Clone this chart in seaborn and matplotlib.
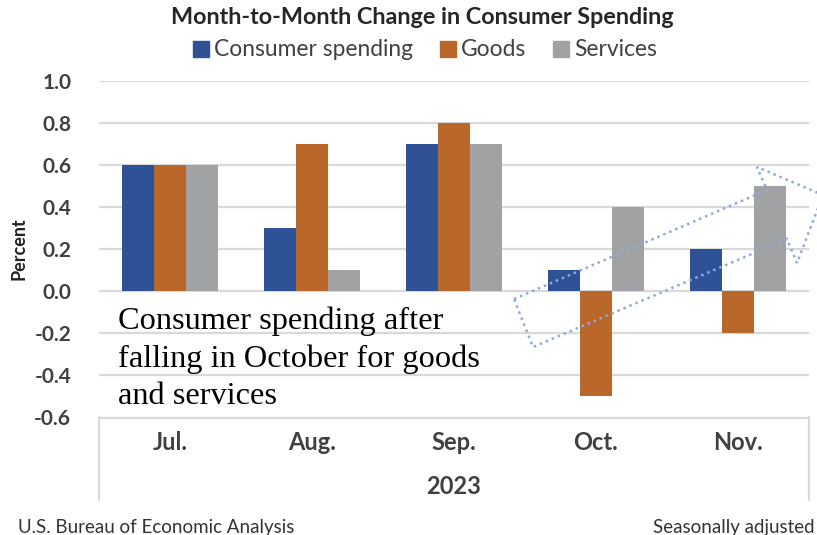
import matplotlib
matplotlib.use("Agg")
import matplotlib.pyplot as plt
from matplotlib.patches import Polygon
from matplotlib.transforms import Affine2D
import seaborn as sns
import pandas as pd

# Monthly percent changes, 2023
months = ["Jul.", "Aug.", "Sep.", "Oct.", "Nov."]
series = ["Consumer spending", "Goods", "Services"]
consumer_spending = [0.6, 0.3, 0.7, 0.1, 0.2]
goods = [0.6, 0.7, 0.8, -0.5, -0.2]
services = [0.6, 0.1, 0.7, 0.4, 0.5]
y_ticks = [1.0, 0.8, 0.6, 0.4, 0.2, 0.0, -0.2, -0.4, -0.6]

palette = {"Consumer spending": "#2F5196", "Goods": "#B9672A", "Services": "#A0A2A3"}

rows = []
for name, vals in zip(series, [consumer_spending, goods, services]):
    for m, v in zip(months, vals):
        rows.append({"Month": m, "Series": name, "Value": v})
df = pd.DataFrame(rows)

sns.set_theme(style="white")
plt.rcParams["font.family"] = ["Lato", "DejaVu Sans"]

W, H = 817, 535
fig = plt.figure(figsize=(W / 100, H / 100), dpi=100)
ax = fig.add_axes([99 / W, 1 - 417 / H, (809 - 99) / W, (417 - 81) / H])

sns.barplot(data=df, x="Month", y="Value", hue="Series", order=months,
            hue_order=series, palette=palette, width=0.67, saturation=1,
            edgecolor="none", ax=ax, legend=False, zorder=3)

ax.set_ylim(-0.6, 1.0)
ax.set_xlim(-0.5, len(months) - 0.5)
ax.set_yticks(y_ticks)
ax.set_yticklabels([f"{t:.1f}" for t in y_ticks], fontsize=15,
                   fontweight="bold", color="#404040")
ax.tick_params(axis="y", length=0, pad=20)
ax.set_xticks([])
ax.set_xlabel("")
ax.set_ylabel("Percent", fontsize=13, fontweight="bold", color="#222222", labelpad=5)
for s in ax.spines.values():
    s.set_visible(False)
for t in y_ticks[:-1]:
    ax.axhline(t, color="#D9D9D9", lw=1.6, zorder=1)

# Category box beneath the plot area
pix = Affine2D().scale(1 / W, -1 / H).translate(0, 1) + fig.transFigure
fig.add_artist(plt.Line2D([99, 809], [417.5, 417.5], color="#D9D9D9", lw=1.6, transform=pix))
fig.add_artist(plt.Line2D([99.5, 99.5], [417, 500], color="#D9D9D9", lw=1.6, transform=pix))
fig.add_artist(plt.Line2D([809, 809], [417, 500], color="#D9D9D9", lw=1.6, transform=pix))
month_y = -(443 - 417) / (417 - 81)
for i, m in enumerate(months):
    ax.text(i, month_y, m, transform=ax.get_xaxis_transform(), ha="center",
            va="center", fontsize=17, fontweight="bold", color="#404040")
ax.text(0.5, -(487 - 417) / (417 - 81), "2023", transform=ax.transAxes,
        ha="center", va="center", fontsize=17, fontweight="bold", color="#404040")

# Title and legend
fig.text(422 / W, 1 - 17 / H, "Month-to-Month Change in Consumer Spending",
         ha="center", va="center", fontsize=16.8, fontweight="bold", color="#262626")
handles = [plt.Rectangle((0, 0), 1, 1, color=palette[s]) for s in series]
fig.legend(handles, series, loc="center", bbox_to_anchor=(425 / W, 1 - 50 / H),
           ncol=3, frameon=False, fontsize=16.4, handlelength=0.7, handleheight=0.7,
           handletextpad=0.2, columnspacing=1.2, labelcolor="#404040")

# Annotation
fig.text(118 / W, 1 - 307 / H,
         "Consumer spending after\nfalling in October for goods\nand services",
         ha="left", va="top", fontsize=23.3, family="Liberation Serif",
         color="black", linespacing=1.36)

arrow_pts = [(514, 299), (767, 190), (757, 167), (823, 195),
             (797, 263), (787, 239), (533, 347)]
fig.add_artist(Polygon(arrow_pts, closed=True, fill=False, edgecolor="#8EA9DB",
                       lw=1.8, linestyle=(0, (1, 1.6)), transform=pix, zorder=10))

# Footer
fig.text(18 / W, 1 - 527 / H, "U.S. Bureau of Economic Analysis",
         ha="left", va="center", fontsize=13.5, color="#333333")
fig.text(815 / W, 1 - 527 / H, "Seasonally adjusted",
         ha="right", va="center", fontsize=13.5, color="#333333")

fig.savefig("out.png", dpi=100)
